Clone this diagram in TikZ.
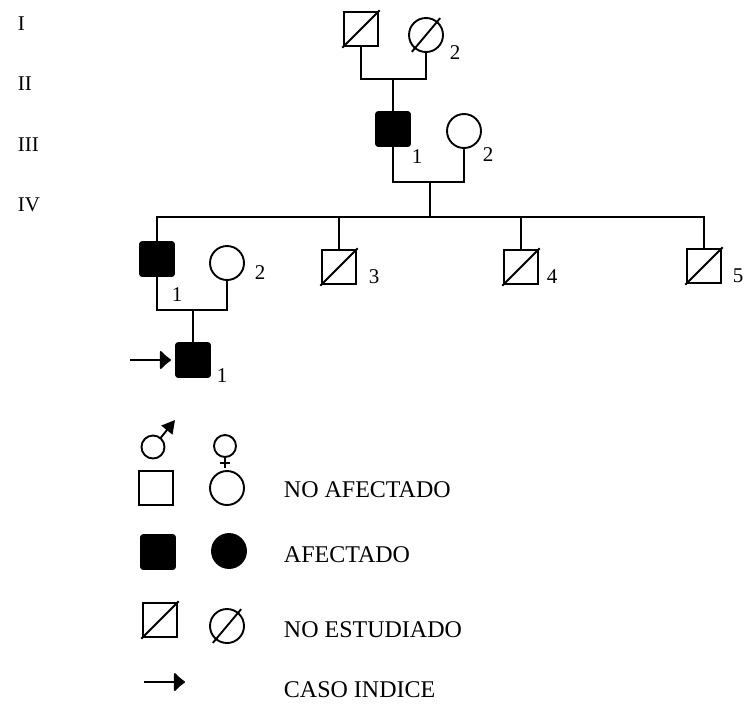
\documentclass[tikz,border=0pt]{standalone}
\usepackage{fontspec}
\setmainfont{Liberation Serif}
\usetikzlibrary{arrows.meta}

\tikzset{
	male/.style={shape=rectangle,draw=black,minimum size=17pt,inner sep=0pt,outer sep=0pt},
	female/.style={shape=circle,draw=black,minimum size=17pt,inner sep=0pt,outer sep=0pt},
	affected/.style={fill=black,rounded corners=1.2pt},
	slash/.style={shorten <=-1.2pt,shorten >=-1.2pt},
	cslash/.style={shorten <=-2.5pt,shorten >=-2.5pt},
	num/.style={inner sep=0pt,font=\fontsize{10.5}{12}\selectfont},
	gen/.style={anchor=west,inner sep=0pt,font=\fontsize{10.5}{12}\selectfont},
	keytext/.style={anchor=west,inner sep=0pt,font=\fontsize{12}{14}\selectfont},
	index/.style={-{Latex[length=6pt,width=11pt,round]}},
}

\begin{document}
\begin{tikzpicture}[x=0.5pt,y=-0.5pt,line width=0.95pt]
	\useasboundingbox (0,0) rectangle (749,714);

	\node[gen] (g1) at (17,24)  {I};
	\node[gen] (g2) at (17,84)  {II};
	\node[gen] (g3) at (17,145) {III};
	\node[gen] (g4) at (17,205) {IV};

	\node[male]   (i1) at (361,29)  {};
	\node[female] (i2) at (426,35)  {};
	\node[male,affected] (p1) at (393,129) {};
	\node[female] (p2) at (464,131) {};
	\node[male,affected] (c1) at (157,259) {};
	\node[female] (c2) at (227,263) {};
	\node[male]   (c3) at (339,267) {};
	\node[male]   (c4) at (521,267) {};
	\node[male]   (c5) at (704,266) {};
	\node[male,affected] (v1) at (193,360) {};

	\node[num] (l-i2) at (455,53)  {2};
	\node[num] (l-p1) at (417,157) {1};
	\node[num] (l-p2) at (488,155) {2};
	\node[num] (l-c1) at (177,295) {1};
	\node[num] (l-c2) at (260,273) {2};
	\node[num] (l-c3) at (374,277) {3};
	\node[num] (l-c4) at (552,277) {4};
	\node[num] (l-c5) at (738,276) {5};
	\node[num] (l-v1) at (222,376) {1};

	\draw[slash]  (i1.south west) -- (i1.north east);
	\draw[cslash] (i2.230) -- (i2.50);
	\draw[slash]  (c3.south west) -- (c3.north east);
	\draw[slash]  (c4.south west) -- (c4.north east);
	\draw[slash]  (c5.south west) -- (c5.north east);

	\coordinate (m1)  at (393,79);
	\coordinate (m2)  at (430,182);
	\coordinate (sib) at (430,217);
	\coordinate (m3)  at (193,310);

	\draw (i1.south) |- (m1) -| (i2.south);
	\draw (m1) -- (p1);
	\draw (p1.south) |- (m2) -| (p2.south);
	\draw (m2) -- (sib);
	\draw (c1.north) |- (sib) -| (c5.north);
	\draw (c3.north) -- (c3.north |- sib);
	\draw (c4.north) -- (c4.north |- sib);
	\draw (c1.south) |- (m3) -| (c2.south);
	\draw (m3) -- (v1);

	\coordinate (ar1) at (130,360);
	\draw[index,shorten >=2.5pt] (ar1) -- (v1.west);

	% key
	\node[shape=circle,draw=black,minimum size=11.5pt,inner sep=0pt,outer sep=0pt] (ms) at (153,447) {};
	\coordinate (ms-tip) at (175,420);
	\draw[-{Triangle[length=6.5pt,width=7pt]}] (ms.50) -- (ms-tip);
	\node[shape=circle,draw=black,minimum size=11pt,inner sep=0pt,outer sep=0pt] (fs) at (225,446) {};
	\coordinate (fs-end) at (225,468);
	\draw (fs.south) -- (fs-end);
	\draw (220,463) -- (230,463);

	\node[male]   (k1) at (156,488) {};
	\node[female] (k2) at (227,488) {};
	\node[male,affected]   (k3) at (158,552) {};
	\node[female,affected] (k4) at (229,551) {};
	\node[male]   (k5) at (160,620) {};
	\node[female] (k6) at (227,626) {};
	\draw[slash]  (k5.south west) -- (k5.north east);
	\draw[cslash] (k6.230) -- (k6.50);

	\coordinate (ka1) at (144,682);
	\coordinate (ka2) at (185,682);
	\draw[index] (ka1) -- (ka2);

	\node[keytext] (t1) at (283,490) {NO AFECTADO};
	\node[keytext] (t2) at (283,555) {AFECTADO};
	\node[keytext] (t3) at (283,630) {NO ESTUDIADO};
	\node[keytext] (t4) at (283,690) {CASO INDICE};
\end{tikzpicture}
\end{document}
